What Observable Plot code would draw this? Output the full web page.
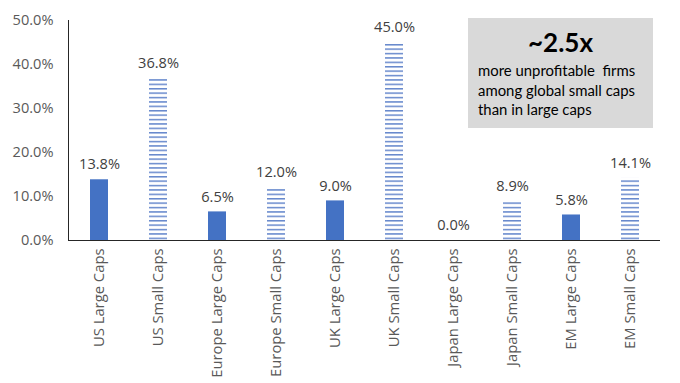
<!DOCTYPE html>
<html><head><meta charset="utf-8">
<script src="https://cdn.jsdelivr.net/npm/d3@7"></script>
<script src="https://cdn.jsdelivr.net/npm/@observablehq/plot@0.6"></script>
<style>
body{margin:0;background:#fff;}
#wrap{position:relative;width:680px;height:383px;}
#note{position:absolute;left:468px;top:18px;width:185px;height:110px;background:#d9d9d9;font-family:Lato,"Open Sans",sans-serif;color:#000;}
#note .big{font-weight:bold;font-size:26px;margin-top:10px;line-height:28px;text-align:center;}
#note .small{font-size:14.9px;line-height:19.5px;margin-top:5px;padding-left:10px;white-space:nowrap;}
</style></head>
<body><div id="wrap"><div id="note"><div class="big">~2.5x</div><div class="small">more unprofitable&nbsp; firms<br>among global small caps<br>than in large caps</div></div></div>
<script>
const categories = ["US Large Caps","US Small Caps","Europe Large Caps","Europe Small Caps","UK Large Caps","UK Small Caps","Japan Large Caps","Japan Small Caps","EM Large Caps","EM Small Caps"];
const values = [13.8, 36.8, 6.5, 12.0, 9.0, 45.0, 0.0, 8.9, 5.8, 14.1];
const kinds = ["Large","Small","Large","Small","Large","Small","Large","Small","Large","Small"];
const yTicks = [0,10,20,30,40,50];

const data = categories.map((c,i)=>({cat:c, v:values[i], kind:kinds[i]}));
const font = "'Open Sans', sans-serif";

const chart = Plot.plot({
  width: 680, height: 383,
  marginLeft: 68, marginRight: 20, marginTop: 20, marginBottom: 143,
  style: {fontFamily: font, fontSize: "14.6px", color: "#595959", background: "transparent"},
  x: {domain: categories, paddingInner: 0.7, paddingOuter: 0.35, label: null},
  y: {domain: [0, 50], label: null},
  marks: [
    Plot.barY(data.filter(d=>d.kind==="Large"), {x:"cat", y:"v", fill:"#4472c4"}),
    Plot.barY(data.filter(d=>d.kind==="Small"), {x:"cat", y:"v", fill:"url(#hatch)"}),
    Plot.text(data, {x:"cat", y:"v", text: d=>d.v.toFixed(1)+"%", dy:-15, fill:"#404040", fontSize:14.6}),
    Plot.axisY({ticks: yTicks, tickFormat: d=>d.toFixed(1)+"%", tickSize:0, tickPadding:15, fontSize:14.6, fill:"#595959"}),
    Plot.axisX({tickRotate:-90, tickSize:0, tickPadding:8, fontSize:14.8, fill:"#595959"}),
    Plot.frame({anchor:"left", stroke:"#262626"}),
    Plot.ruleY([0], {stroke:"#262626"})
  ]
});
const ns = "http://www.w3.org/2000/svg";
const defs = document.createElementNS(ns, "defs");
defs.innerHTML = `<pattern id="hatch" patternUnits="userSpaceOnUse" width="8" height="4.4"><rect width="8" height="4.4" fill="white"/><rect y="0" width="8" height="1.5" fill="#6688cc"/></pattern>`;
chart.insertBefore(defs, chart.firstChild);
document.getElementById("wrap").insertBefore(chart, document.getElementById("note"));
chart.style.position="absolute"; chart.style.left="0"; chart.style.top="0";
</script>
</body></html>
